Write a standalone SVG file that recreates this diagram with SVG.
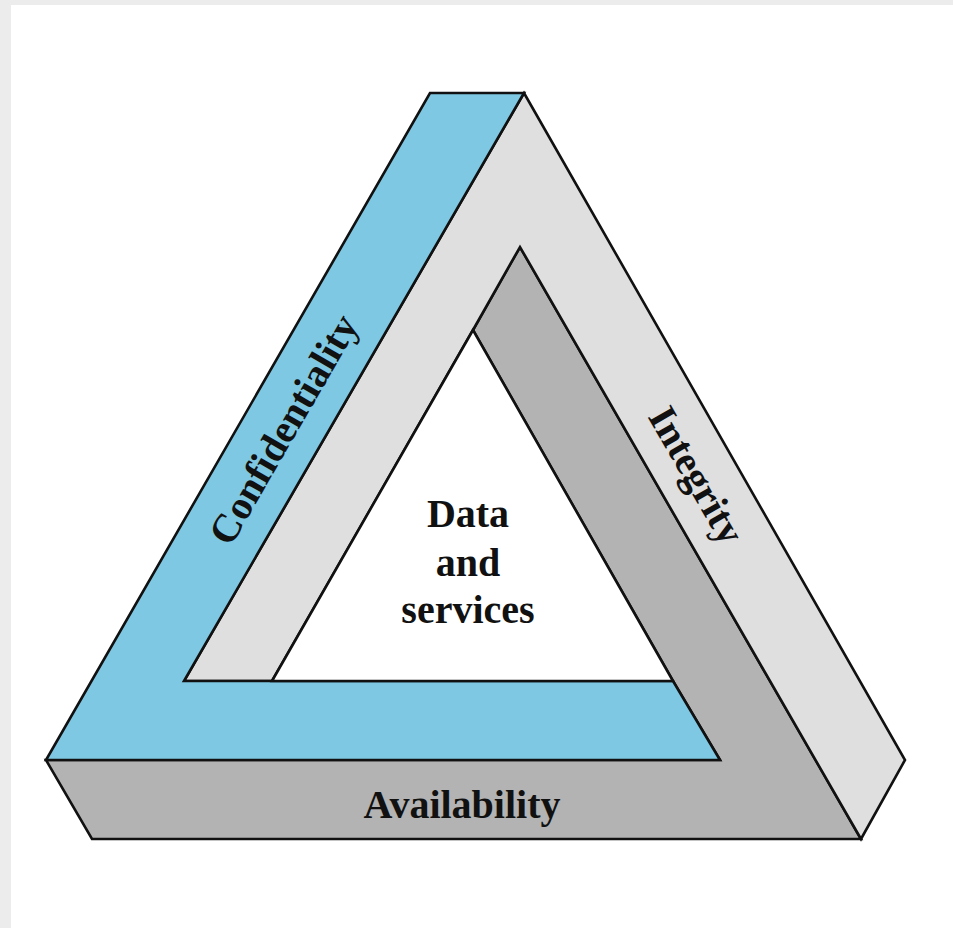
<svg xmlns="http://www.w3.org/2000/svg" width="953" height="928" viewBox="0 0 953 928">
<style>
.face{stroke:#111;stroke-width:2.6;stroke-linejoin:miter}
.blue{fill:#7ec8e3}
.light{fill:#dfdfdf}
.dark{fill:#b2b3b2}
.inner{fill:#ffffff}
.lbl{font-family:"Liberation Serif","Times New Roman",serif;font-weight:bold;font-size:40px;fill:#111;text-anchor:middle}
</style>
<rect x="0" y="0" width="953" height="928" fill="#ececec"/>
<rect x="11" y="5" width="942" height="923" fill="#ffffff"/>
<g id="availability">
<polygon class="face dark" points="46,760 720,760 673,681 473,330 520,247 861,839 92,839"/>
<text class="lbl" x="462" y="818">Availability</text>
</g>
<g id="integrity">
<polygon class="face light" points="524,93 905,760 861,839 520,247 473,330 272,681 184,681"/>
<text class="lbl" x="685" y="482" transform="rotate(60 685 482)">Integrity</text>
</g>
<g id="confidentiality">
<polygon class="face blue" points="430,93 524,93 184,681 673,681 720,760 46,760"/>
<text class="lbl" x="295" y="436" transform="rotate(-60 295 436)">Confidentiality</text>
</g>
<g id="data">
<polygon class="face inner" points="473,330 272,681 673,681"/>
<text class="lbl" x="468" y="527">Data</text>
<text class="lbl" x="468" y="576">and</text>
<text class="lbl" x="468" y="623">services</text>
</g>
<g id="connectors"></g>
</svg>
